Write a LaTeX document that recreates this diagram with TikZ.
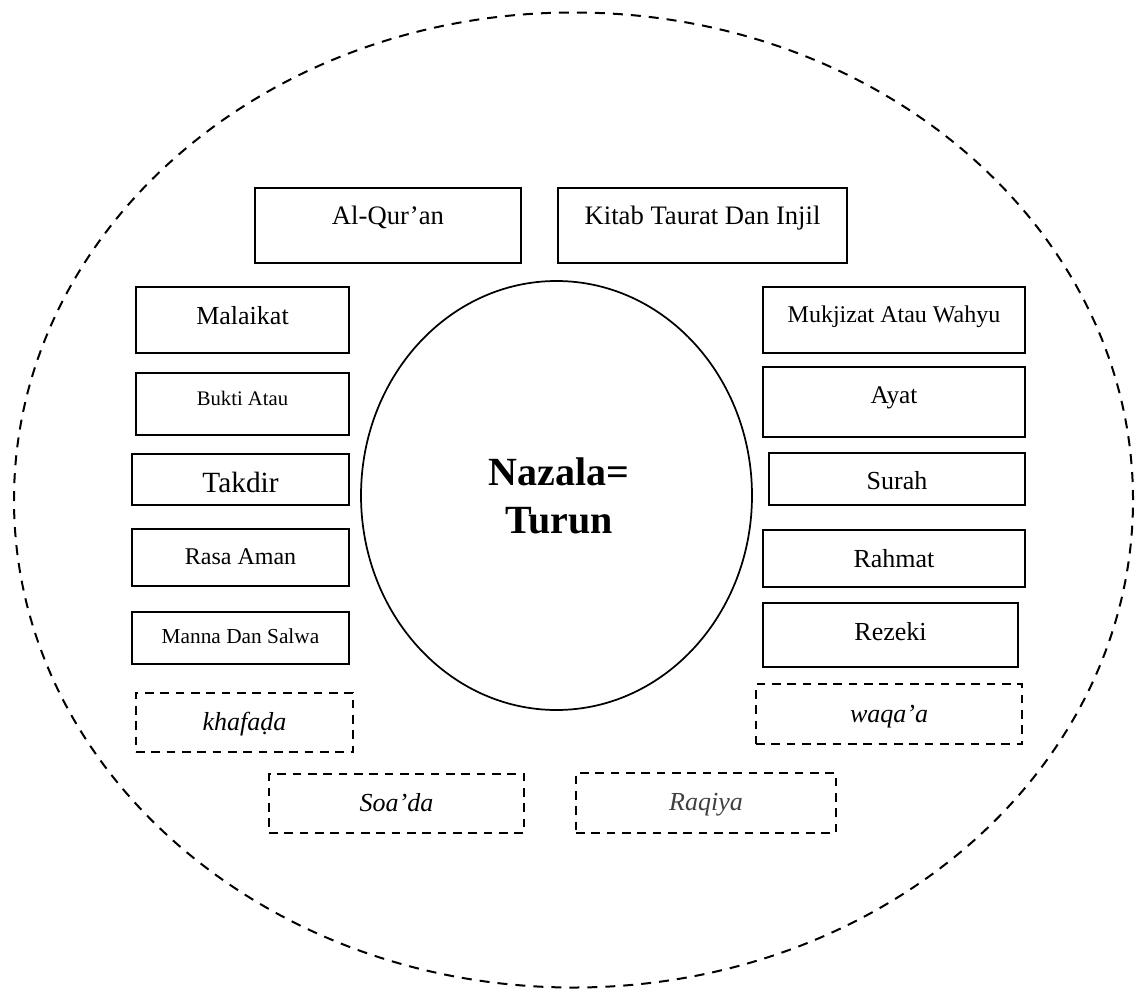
\documentclass[tikz,border=0pt]{standalone}
\usepackage{fontspec}
\setmainfont{Liberation Serif}
\usetikzlibrary{shapes.geometric}
\definecolor{raqgray}{HTML}{404040}
\tikzset{
  boxbase/.style={draw, line width=1.5pt, rectangle, inner sep=0pt, align=center},
  solidbox/.style={boxbase},
  dashbox/.style={boxbase, line width=1.4pt, dash pattern=on 6.5pt off 5pt, font=\itshape},
  outerring/.style={draw, ellipse, dash pattern=on 7.5pt off 6pt, line width=1.5pt, inner sep=0pt},
  centre/.style={draw, ellipse, line width=1.3pt, inner sep=0pt, align=center,
    font=\bfseries\fontsize{30pt}{36pt}\selectfont}
}
\newcommand{\fs}[1]{\fontsize{#1}{#1}\selectfont}
\begin{document}
\begin{tikzpicture}[x=0.75pt,y=-0.75pt]
\useasboundingbox (0,0) rectangle (1144,991);
% outer dashed ellipse
\node[outerring, minimum width=839.25pt, minimum height=731.25pt] (outer) at (573.5,500) {};
% central circle
\node[centre, minimum width=293.25pt, minimum height=321.75pt] (nazala) at (556.5,495.5) {\hspace*{4pt}Nazala=\\\hspace*{4pt}Turun};
% top boxes
\node[solidbox, minimum width=199.5pt, text height=27pt, text depth=29.25pt, font=\fs{20pt}] (alq) at (388,225.5) {Al-Qur’an};
\node[solidbox, minimum width=216.75pt, text height=27pt, text depth=29.25pt, font=\fs{20pt}] (kit) at (702.5,225.5) {Kitab Taurat Dan Injil};
% left column
\node[solidbox, minimum width=159.75pt, text height=27.75pt, text depth=21.75pt, font=\fs{19.5pt}] (mal) at (242.5,320) {Malaikat};
\node[solidbox, minimum width=159.75pt, text height=24pt, text depth=22.5pt, font=\fs{15.5pt}] (buk) at (242.5,404) {Bukti Atau};
\node[solidbox, minimum width=162.75pt, text height=28.5pt, text depth=9.75pt, font=\fs{22pt}] (tak) at (240.5,479.5) {Takdir};
\node[solidbox, minimum width=162.75pt, text height=26.25pt, text depth=16.5pt, font=\fs{18pt}] (ras) at (240.5,557.5) {Rasa Aman};
\node[solidbox, minimum width=162.75pt, text height=23.25pt, text depth=15.75pt, font=\fs{16pt}] (man) at (240.5,638) {Manna Dan Salwa};
\node[dashbox, minimum width=162.75pt, text height=27.75pt, text depth=16.5pt, font=\itshape\fs{19.5pt}] (kha) at (244.5,722.5) {khafaḍa};
% bottom dashed boxes
\node[dashbox, minimum width=191.25pt, text height=27.75pt, text depth=16.5pt, font=\itshape\fs{19.5pt}] (soa) at (396.5,803.5) {Soa’da};
\node[dashbox, minimum width=195pt, text height=27.75pt, text depth=17.25pt, font=\itshape\fs{19.5pt}, text=raqgray] (raq) at (706,803) {Raqiya};
% right column
\node[solidbox, minimum width=196.5pt, text height=26.25pt, text depth=23.25pt, font=\fs{18pt}] (muk) at (894,320) {Mukjizat Atau Wahyu};
\node[solidbox, minimum width=196.5pt, text height=27pt, text depth=25.5pt, font=\fs{19pt}] (aya) at (894,402) {Ayat};
\node[solidbox, minimum width=192pt, text height=27pt, text depth=12pt, font=\fs{19.5pt}] (sur) at (897,479) {Surah};
\node[solidbox, minimum width=196.5pt, text height=27.75pt, text depth=15pt, font=\fs{19.5pt}] (rah) at (894,558.5) {Rahmat};
\node[solidbox, minimum width=191.25pt, text height=27.75pt, text depth=20.25pt, font=\fs{19.5pt}] (rez) at (890.5,635) {Rezeki};
\node[dashbox, minimum width=199.5pt, text height=28.5pt, text depth=16.5pt, font=\itshape\fs{19.5pt}] (waq) at (889,714) {waqa’a};
\end{tikzpicture}
\end{document}
